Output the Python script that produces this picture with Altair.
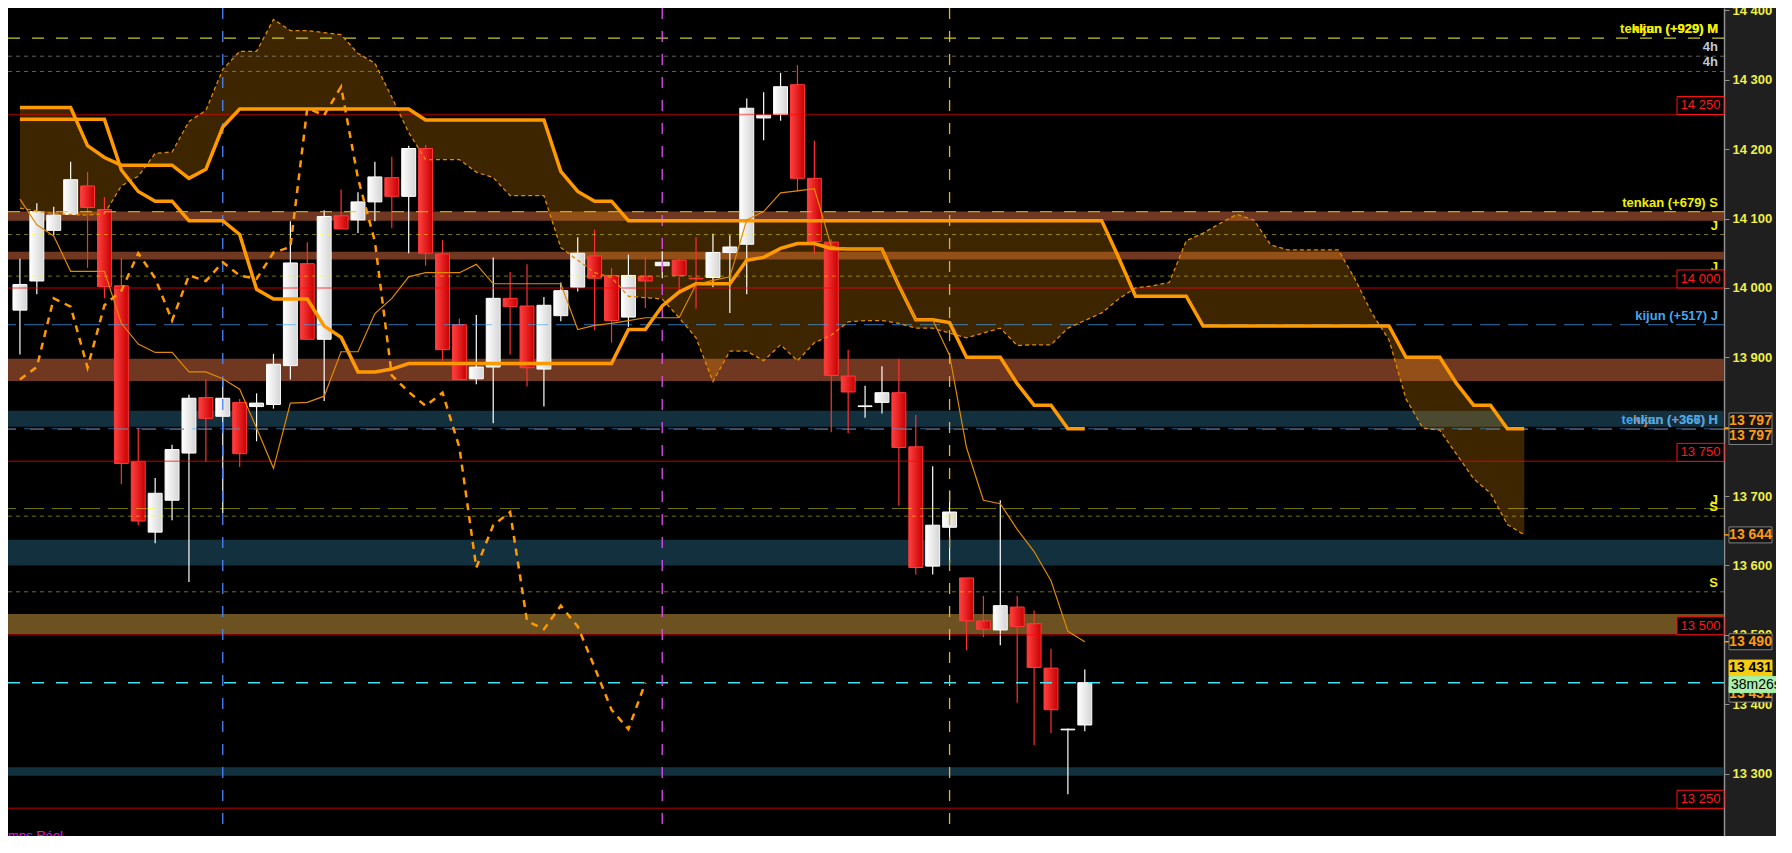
import altair as alt
import pandas as pd

W, H, AX = 1716, 828, 52
XMIN, XMAX = -0.41, 100.52
YMIN, YMAX = 13210.0, 14403.5
PX = H / (YMAX - YMIN)
BODY = 0.82 * W / (XMAX - XMIN)
FONT = "Liberation Sans"

# ---------------- data ----------------
opens = [13968, 14010, 14083, 14106, 14147, 14113, 14003, 13750, 13648, 13694,
         13762, 13842, 13815, 13835, 13829, 13832, 13888, 14035, 13926, 14104,
         14098, 14124, 14159, 14132, 14201, 14049, 13947, 13869, 13886, 13985,
         13974, 13883, 13960, 14001, 14046, 14018, 13958, 14017, 14032, 14040,
         14014, 14015, 14051, 14063, 14245, 14250, 14293, 14158, 14066, 13873,
         13829, 13835, 13849, 13771, 13599, 13655, 13582, 13520, 13507, 13540,
         13516, 13452, 13363, 13370]
highs = [14042, 14122, 14117, 14182, 14167, 14131, 14043, 13799, 13726, 13774,
         13846, 13868, 13869, 13840, 13848, 13905, 14096, 14066, 14112, 14142,
         14138, 14182, 14189, 14205, 14206, 14069, 13956, 13961, 14044, 14023,
         14034, 13987, 14008, 14073, 14084, 14029, 14048, 14045, 14053, 14042,
         14073, 14078, 14076, 14273, 14282, 14310, 14321, 14212, 14070, 13911,
         13859, 13887, 13898, 13817, 13743, 13708, 13582, 13556, 13694, 13556,
         13535, 13480, 13365, 13450]
lows = [13904, 13991, 14076, 14105, 14029, 13985, 13717, 13658, 13632, 13665,
        13576, 13749, 13675, 13742, 13779, 13826, 13868, 13926, 13837, 14085,
        14079, 14096, 14086, 14050, 14032, 13895, 13868, 13861, 13805, 13904,
        13858, 13829, 13952, 13995, 13939, 13921, 13944, 13971, 14014, 13995,
        13970, 14001, 13964, 13991, 14213, 14241, 14139, 14049, 13792, 13791,
        13813, 13819, 13686, 13587, 13587, 13605, 13478, 13497, 13485, 13402,
        13341, 13358, 13270, 13361]
closes = [14005, 14110, 14105, 14156, 14116, 14002, 13747, 13664, 13704, 13767,
          13841, 13812, 13841, 13761, 13834, 13890, 14036, 13926, 14103, 14085,
          14124, 14160, 14132, 14201, 14050, 13911, 13868, 13886, 13985, 13973,
          13885, 13975, 13996, 14050, 14014, 13953, 14018, 14010, 14037, 14018,
          14013, 14051, 14059, 14259, 14249, 14290, 14158, 14067, 13874, 13850,
          13830, 13849, 13770, 13597, 13658, 13677, 13520, 13508, 13542, 13512,
          13453, 13392, 13364, 13431]

tenkan = [14128, 14091, 14075, 14024, 14024, 14024, 13949, 13919, 13907, 13907,
          13879, 13879, 13869, 13854, 13798, 13740, 13834, 13835, 13844, 13908,
          13908, 13963, 13985, 14016, 14022, 14022, 14022, 14034, 14006, 14006,
          14006, 14006, 14006, 13940, 13946, 13949, 13953, 13957, 13957, 13957,
          14005, 14011, 14016, 14098, 14110, 14137, 14140, 14143, 14060, 14056,
          14056, 14056, 14003, 13954, 13954, 13903, 13770, 13694, 13689, 13652,
          13620, 13578, 13505, 13490]
kijun = [14243, 14243, 14243, 14243, 14243, 14243, 14170, 14139, 14125, 14125,
         14097, 14097, 14097, 14077, 13998, 13984, 13984, 13984, 13945, 13929,
         13879, 13879, 13883, 13891, 13891, 13891, 13891, 13891, 13891, 13891,
         13891, 13891, 13891, 13891, 13891, 13891, 13940, 13940, 13974, 13994,
         14006, 14006, 14006, 14040, 14044, 14057, 14064, 14064, 14057, 14056,
         14056, 14056, 14003, 13954, 13954, 13950, 13900, 13900, 13900, 13862,
         13831, 13831, 13797, 13797]
senkou_a = [14115, 14111, 14107, 14106, 14105, 14107, 14147, 14161, 14194, 14196,
            14240, 14256, 14315, 14341, 14341, 14387, 14371, 14371, 14368, 14365,
            14338, 14324, 14275, 14224, 14185, 14185, 14185, 14167, 14159, 14133,
            14133, 14133, 14058, 14040, 14022, 14015, 13988, 13986, 13984, 13957,
            13928, 13865, 13909, 13909, 13895, 13918, 13895, 13921, 13932, 13951,
            13953, 13953, 13949, 13942, 13942, 13935, 13928, 13935, 13942, 13917,
            13918, 13918, 13942, 13953, 13964, 13984, 14000, 14003, 14008, 14068,
            14079, 14093, 14106, 14098, 14062, 14055, 14055, 14055, 14055, 14012,
            13963, 13925, 13840, 13798, 13795, 13760, 13725, 13704, 13659, 13644]
senkou_b = [14260, 14260, 14260, 14260, 14205, 14188, 14177, 14177, 14177, 14177,
            14158, 14171, 14232, 14258, 14258, 14258, 14258, 14258, 14258, 14258,
            14258, 14258, 14258, 14258, 14242, 14242, 14242, 14242, 14242, 14242,
            14242, 14242, 14168, 14139, 14125, 14125, 14097, 14097, 14097, 14097,
            14097, 14097, 14097, 14097, 14097, 14097, 14097, 14097, 14097, 14097,
            14097, 14097, 14097, 14097, 14097, 14097, 14097, 14097, 14097, 14097,
            14097, 14097, 14097, 14097, 14097, 14044, 13988, 13988, 13988, 13988,
            13945, 13945, 13945, 13945, 13945, 13945, 13945, 13945, 13945, 13945,
            13945, 13945, 13900, 13900, 13900, 13862, 13831, 13831, 13797, 13797]
chikou = closes[26:]

vlines_idx = [12, 38, 55]
vlines_col = ["#4a86ff", "#e050f0", "#e8b030"]

band_lo = [14097, 14041, 13866, 13800, 13600, 13297, 13501]
band_hi = [14110, 14052, 13898, 13823, 13637, 13309, 13530]
band_col = ["#703820", "#703820", "#703820", "#13303f", "#13303f", "#13303f", "#6b5220"]

red_levels = [14250, 14000, 13750, 13500, 13250]
red_texts = ["14 250", "14 000", "13 750", "13 500", "13 250"]

# dashed level lines: price, colour, opacity, dash, width
dash_lines = [
    (14360, "#e8e830", 0.85, [12, 12], 1.2),
    (14334, "#a0a0a0", 0.6, [4, 4], 1.0),
    (14312, "#a0a0a0", 0.6, [4, 4], 1.0),
    (14110, "#e8c800", 0.8, [12, 12], 1.2),
    (14077, "#ffff00", 0.45, [4, 4], 1.0),
    (14017, "#ffff00", 0.45, [4, 4], 1.0),
    (13947, "#40a8ff", 0.55, [20, 8], 1.2),
    (13797, "#40a8ff", 0.55, [20, 8], 1.2),
    (13796, "#d06020", 0.6, [14, 14], 1.2),
    (13682, "#ffff00", 0.45, [20, 8], 1.0),
    (13671, "#ffff00", 0.45, [4, 4], 1.0),
    (13562, "#ffff00", 0.45, [4, 4], 1.0),
    (13431, "#40f0ff", 0.95, [12, 12], 1.5),
]

lab_price = [14360, 14360, 14334, 14312, 14110, 14077, 14017, 13947, 13797, 13797, 13682, 13671, 13562]
lab_text = ["tenkan (+929) M", "kijun (+929) M", "4h", "4h", "tenkan (+679) S", "J", "J",
            "kijun (+517) J", "kijun (+367) H", "tenkan (+366) H", "J", "S", "S"]
lab_col = ["#f0f000", "#f0f000", "#c0c8d8", "#c0c8d8", "#f0f000", "#f0f000", "#f0f000",
           "#40a8f0", "#c87a40", "#40a8f0", "#f0f000", "#f0f000", "#f0f000"]

# price tags on the axis: price, text, pixel offset of centre, kind
tag_price = [13797, 13797, 13644, 13490, 13431, 13431, 13431]
tag_text = ["13 797", "13 797", "13 644", "13 490", "13 431", "13 431", "38m26s"]
tag_off = [-7.8, 7.7, 0, 0, 11.4, -14.6, 1.9]
tag_fill = ["#141414", "#141414", "#141414", "#141414", "#141414", "#f8cc10", "#a8f0a8"]
tag_stroke = ["#808080", "#808080", "#808080", "#808080", "#808080", "#f8cc10", "#a8f0a8"]
tag_tcol = ["#ff9a10", "#ff9a10", "#ff9a10", "#ff9a10", "#ff9a10", "#000000", "#000000"]

# ---------------- scales & helpers ----------------
yscale = alt.Scale(domain=[YMIN, YMAX], nice=False, zero=False)
xscale = alt.Scale(domain=[XMIN, XMAX], nice=False, zero=False)
yaxis = alt.Axis(orient="right", values=list(range(13300, 14401, 100)),
                 labelExpr="replace(format(datum.value, ',.0f'), ',', ' ')",
                 labelColor="#f0f048", labelFont=FONT, labelFontSize=13,
                 labelFontWeight="bold", tickColor="#909090", tickSize=5,
                 domainColor="#909090", domainWidth=1.5, grid=False, title=None,
                 labelPadding=3, labelOverlap=False)


def X(f="idx"):
    return alt.X(f"{f}:Q", scale=xscale, axis=None)


def Y(f):
    return alt.Y(f"{f}:Q", scale=yscale, axis=yaxis)


layers = []

# bands
bands = pd.DataFrame({"lo": band_lo, "hi": band_hi, "col": band_col})
layers.append(alt.Chart(bands).mark_rect().encode(
    x=alt.value(0), x2=alt.value(W), y=Y("hi"), y2="lo:Q",
    color=alt.Color("col:N", scale=None)))

# cloud
cloud = pd.DataFrame({"idx": list(range(len(senkou_a))), "sa": senkou_a, "sb": senkou_b})
layers.append(alt.Chart(cloud).mark_area(color="#ff9900", opacity=0.24).encode(
    x=X(), y=Y("sa"), y2="sb:Q"))

# candles
df = pd.DataFrame({"idx": list(range(len(opens))), "o": opens, "h": highs, "l": lows, "c": closes})
up = df[df["c"] >= df["o"]]
dn = df[df["c"] < df["o"]]
grad_w = alt.Gradient(gradient="linear", x1=0, x2=1, y1=0, y2=0,
                      stops=[alt.GradientStop(color="#ffffff", offset=0),
                             alt.GradientStop(color="#d4d4d4", offset=1)])
grad_r = alt.Gradient(gradient="linear", x1=0, x2=1, y1=0, y2=0,
                      stops=[alt.GradientStop(color="#ff4040", offset=0),
                             alt.GradientStop(color="#c80000", offset=1)])
layers.append(alt.Chart(up).mark_rule(color="#ffffff", strokeWidth=1.2).encode(
    x=X(), y=Y("l"), y2="h:Q"))
layers.append(alt.Chart(dn).mark_rule(color="#ff3030", strokeWidth=1.2).encode(
    x=X(), y=Y("l"), y2="h:Q"))
layers.append(alt.Chart(up).mark_bar(size=BODY, color=grad_w, stroke="#ffffff", strokeWidth=1).encode(
    x=X(), y=Y("o"), y2="c:Q"))
layers.append(alt.Chart(dn).mark_bar(size=BODY, color=grad_r, stroke="#ff3a3a", strokeWidth=1).encode(
    x=X(), y=Y("o"), y2="c:Q"))

# horizontal level lines
for p in red_levels:
    layers.append(alt.Chart(pd.DataFrame({"p": [p]})).mark_rule(
        color="#ff0000", opacity=0.5, strokeWidth=1.5).encode(y=Y("p")))
for p, col, op, dash, sw in dash_lines:
    layers.append(alt.Chart(pd.DataFrame({"p": [p]})).mark_rule(
        color=col, opacity=op, strokeDash=dash, strokeWidth=sw).encode(y=Y("p")))

# vertical dashed lines
for i, col in zip(vlines_idx, vlines_col):
    layers.append(alt.Chart(pd.DataFrame({"idx": [i]})).mark_rule(
        color=col, strokeDash=[11, 12], strokeWidth=1.3).encode(x=X()))

# ichimoku lines
ichi = pd.DataFrame({"idx": list(range(len(tenkan))), "tenkan": tenkan, "kijun": kijun})
chik = pd.DataFrame({"idx": list(range(len(chikou))), "v": chikou})
layers.append(alt.Chart(cloud).mark_line(color="#e08a00", strokeWidth=1.3, strokeDash=[4, 3]).encode(
    x=X(), y=Y("sa")))
layers.append(alt.Chart(cloud).mark_line(color="#ff9900", strokeWidth=3.5).encode(
    x=X(), y=Y("sb")))
layers.append(alt.Chart(ichi).mark_line(color="#ff9900", strokeWidth=3.5).encode(
    x=X(), y=Y("kijun")))
layers.append(alt.Chart(ichi).mark_line(color="#e08a00", strokeWidth=1.2).encode(
    x=X(), y=Y("tenkan")))
layers.append(alt.Chart(chik).mark_line(color="#ff9900", strokeWidth=2.5, strokeDash=[7, 6]).encode(
    x=X(), y=Y("v")))

# right side labels in the plot
labs = pd.DataFrame({"p": lab_price, "t": lab_text, "col": lab_col})
layers.append(alt.Chart(labs).mark_text(align="right", baseline="bottom", dy=-2, font=FONT,
                                        fontSize=13, fontWeight="bold").encode(
    x=alt.value(W - 6), y=Y("p"), text="t:N", color=alt.Color("col:N", scale=None)))

# red level boxes
rb = pd.DataFrame({"p": red_levels, "t": red_texts})
rb["top"] = rb["p"] + 18 / PX
rb["mid"] = rb["p"] + 9 / PX
layers.append(alt.Chart(rb).mark_rect(fill="#000000", stroke="#ff1010", strokeWidth=1).encode(
    x=alt.value(W - 47), x2=alt.value(W), y=Y("top"), y2="p:Q"))
layers.append(alt.Chart(rb).mark_text(align="center", baseline="middle", font=FONT, fontSize=13,
                                      color="#ff1a1a").encode(
    x=alt.value(W - 23.5), y=Y("mid"), text="t:N"))

# axis price tags
tg = pd.DataFrame({"p": tag_price, "t": tag_text, "off": tag_off, "fill": tag_fill,
                   "stroke": tag_stroke, "tc": tag_tcol})
tg["mid"] = tg["p"] - tg["off"] / PX
tg["top"] = tg["mid"] + 8 / PX
tg["bot"] = tg["mid"] - 8 / PX
tg["k"] = range(len(tg))
tg_main = tg[tg["t"] != "38m26s"]
tg_green = tg[tg["t"] == "38m26s"]
layers.append(alt.Chart(pd.DataFrame({"p": [13797, 13644, 13490]})).mark_rule(
    color="#ff9900", strokeWidth=1.5).encode(x=alt.value(W), x2=alt.value(W + 5), y=Y("p")))
layers.append(alt.Chart(tg_main).mark_rect(strokeWidth=1).encode(
    x=alt.value(W + 5), x2=alt.value(W + 48), y=Y("top"), y2="bot:Q",
    fill=alt.Fill("fill:N", scale=None), stroke=alt.Stroke("stroke:N", scale=None),
    order="k:Q"))
layers.append(alt.Chart(tg_main).mark_text(align="center", baseline="middle", font=FONT,
                                           fontSize=14, fontWeight="bold").encode(
    x=alt.value(W + 26.5), y=Y("mid"), text="t:N", color=alt.Color("tc:N", scale=None)))
layers.append(alt.Chart(tg_green).mark_rect(strokeWidth=1).encode(
    x=alt.value(W + 5), x2=alt.value(W + 70), y=Y("top"), y2="bot:Q",
    fill=alt.Fill("fill:N", scale=None), stroke=alt.Stroke("stroke:N", scale=None)))
layers.append(alt.Chart(tg_green).mark_text(align="left", baseline="middle", font=FONT,
                                            fontSize=14).encode(
    x=alt.value(W + 7), y=Y("mid"), text="t:N", color=alt.Color("tc:N", scale=None)))

# bottom-left status text
layers.append(alt.Chart(pd.DataFrame({"t": ["mps Réel"]})).mark_text(
    align="left", baseline="top", font=FONT, fontSize=13, color="#ff00ff").encode(
    x=alt.value(0), y=alt.value(H - 6), text="t:N"))

chart = alt.layer(*layers).properties(
    width=W, height=H, background="#1f1f1f",
    padding={"left": 0, "top": 0, "right": AX, "bottom": 0},
    autosize=alt.AutoSizeParams(type="none"),
).configure_view(fill="#000000", stroke=None)

chart.save("out.html", embed_options={"renderer": "svg", "actions": False})
